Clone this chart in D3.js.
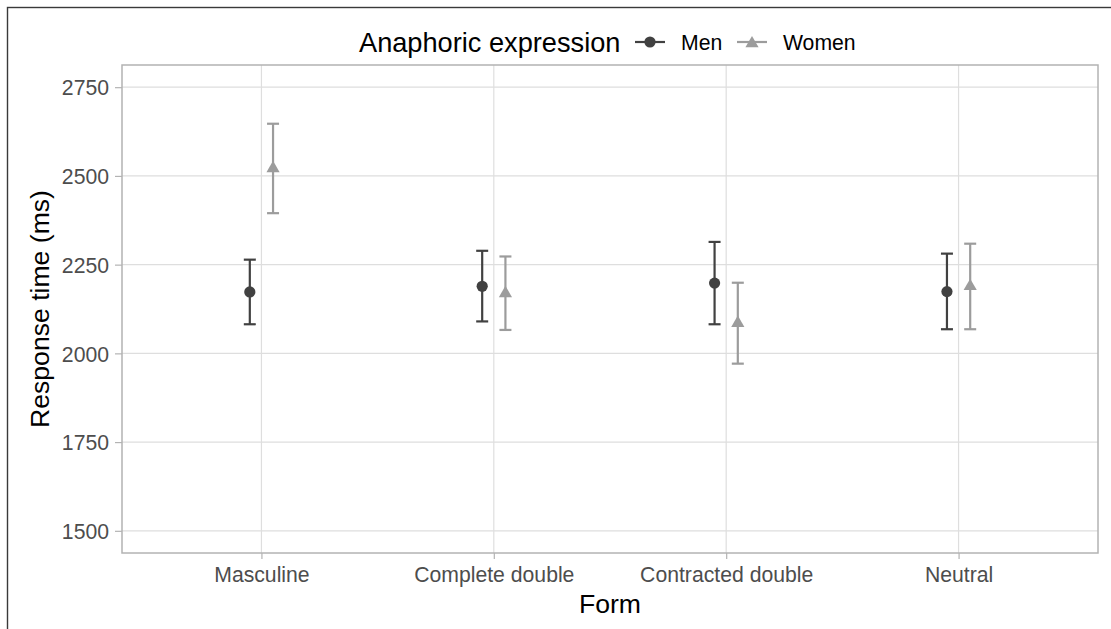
<!DOCTYPE html>
<html>
<head>
<meta charset="utf-8">
<script src="https://cdn.jsdelivr.net/npm/d3@7"></script>
<style>
  html, body { margin: 0; padding: 0; background: #ffffff; }
  svg { display: block; font-family: "Liberation Sans", Arial, sans-serif; }
</style>
</head>
<body>
<svg id="chart"></svg>
<script>
const WIDTH = 1111;
const HEIGHT = 629;

// Data
const forms = ["Masculine", "Complete double", "Contracted double", "Neutral"];
const groups = ["Men", "Women"];
const menMean = [2173, 2189, 2198, 2174];
const menLow = [2082, 2090, 2082, 2068];
const menHigh = [2264, 2289, 2314, 2281];
const womenMean = [2521, 2169, 2085, 2189];
const womenLow = [2395, 2066, 1971, 2068];
const womenHigh = [2647, 2273, 2199, 2309];
const yTicks = [1500, 1750, 2000, 2250, 2500, 2750];

const groupColors = { Men: "#414141", Women: "#9c9c9c" };
const groupShapes = { Men: "circle", Women: "triangle" };

const panel = { left: 122, top: 65, right: 1098, bottom: 553 };

const svg = d3.select("#chart").attr("width", WIDTH).attr("height", HEIGHT);

// outer frame, only left and top edges visible
svg.append("rect")
    .attr("x", 7.5).attr("y", 7.5)
    .attr("width", 3000).attr("height", 3000)
    .attr("fill", "none")
    .attr("stroke", "#3a3a3a")
    .attr("stroke-width", 1.4);

const x = d3.scalePoint()
    .domain(forms)
    .range([panel.left, panel.right])
    .padding(0.6);

const yMin = 1500, yMax = 2750;
const pad = (yMax - yMin) * 0.05;
const y = d3.scaleLinear()
    .domain([yMin - pad, yMax + pad])
    .range([panel.bottom, panel.top]);

const dodge = d3.scalePoint()
    .domain(groups)
    .range([-x.step() * 0.05, x.step() * 0.05]);

// rows for drawing
let rows = [];
forms.forEach((f, i) => {
    rows.push({ form: f, group: "Men", mean: menMean[i], low: menLow[i], high: menHigh[i] });
    rows.push({ form: f, group: "Women", mean: womenMean[i], low: womenLow[i], high: womenHigh[i] });
});

// grid
const grid = svg.append("g");
grid.selectAll("line.h")
    .data(yTicks)
    .enter()
    .append("line")
    .attr("x1", panel.left).attr("x2", panel.right)
    .attr("y1", d => y(d)).attr("y2", d => y(d))
    .attr("stroke", "#dedede")
    .attr("stroke-width", 1.2);
grid.selectAll("line.v")
    .data(forms)
    .enter()
    .append("line")
    .attr("x1", d => x(d)).attr("x2", d => x(d))
    .attr("y1", panel.top).attr("y2", panel.bottom)
    .attr("stroke", "#dedede")
    .attr("stroke-width", 1.2);

// axes
const yAxis = svg.append("g")
    .attr("transform", "translate(" + panel.left + ",0)")
    .call(d3.axisLeft(y).tickValues(yTicks).tickSize(7).tickPadding(6).tickFormat(d3.format("d")));
const xAxis = svg.append("g")
    .attr("transform", "translate(0," + panel.bottom + ")")
    .call(d3.axisBottom(x).tickSize(6).tickPadding(7));
[yAxis, xAxis].forEach(ax => {
    ax.select(".domain").remove();
    ax.selectAll(".tick line").attr("stroke", "#b3b3b3").attr("stroke-width", 1.2);
    ax.selectAll(".tick text")
        .attr("fill", "#4d4d4d")
        .style("font-size", "21.2px")
        .style("font-family", "'Liberation Sans', Arial, sans-serif");
});
yAxis.selectAll(".tick text").attr("dy", "0.36em");
xAxis.selectAll(".tick text").attr("dy", "0.74em");

// panel border
svg.append("rect")
    .attr("x", panel.left).attr("y", panel.top)
    .attr("width", panel.right - panel.left)
    .attr("height", panel.bottom - panel.top)
    .attr("fill", "none")
    .attr("stroke", "#b3b3b3")
    .attr("stroke-width", 1.5);

// axis titles
svg.append("text")
    .attr("x", (panel.left + panel.right) / 2)
    .attr("y", 613)
    .attr("text-anchor", "middle")
    .style("font-size", "26.6px")
    .attr("fill", "#000")
    .text("Form");
svg.append("text")
    .attr("transform", "translate(49," + (panel.top + panel.bottom) / 2 + ") rotate(-90)")
    .attr("text-anchor", "middle")
    .style("font-size", "26.6px")
    .attr("fill", "#000")
    .text("Response time (ms)");

function drawShape(sel, group, cx, cy) {
    if (groupShapes[group] == "circle") {
        sel.append("circle")
            .attr("cx", cx).attr("cy", cy).attr("r", 5.6)
            .attr("fill", groupColors[group]);
    } else {
        let r = 7.6;
        let xc = r * Math.sqrt(3) / 2;
        sel.append("polygon")
            .attr("points", [[cx, cy - r], [cx + xc, cy + r / 2], [cx - xc, cy + r / 2]].map(p => p.join(",")).join(" "))
            .attr("fill", groupColors[group]);
    }
}

// error bars and points
const marks = svg.append("g");
const capHalf = 6;
rows.forEach(d => {
    let cx = x(d.form) + dodge(d.group);
    let col = groupColors[d.group];
    let g = marks.append("g");
    g.append("line")
        .attr("x1", cx).attr("x2", cx)
        .attr("y1", y(d.low)).attr("y2", y(d.high))
        .attr("stroke", col).attr("stroke-width", 2.2);
    [d.low, d.high].forEach(v => {
        g.append("line")
            .attr("x1", cx - capHalf).attr("x2", cx + capHalf)
            .attr("y1", y(v)).attr("y2", y(v))
            .attr("stroke", col).attr("stroke-width", 2.2);
    });
    drawShape(g, d.group, cx, y(d.mean));
});

// legend
const legend = svg.append("g");
const legendY = 42;
legend.append("text")
    .attr("x", 359)
    .attr("y", legendY + 9.7)
    .style("font-size", "27.2px")
    .attr("fill", "#000")
    .text("Anaphoric expression");
const keyX = { Men: 650, Women: 752 };
groups.forEach(gr => {
    let k = legend.append("g");
    k.append("line")
        .attr("x1", keyX[gr] - 15).attr("x2", keyX[gr] + 15)
        .attr("y1", legendY).attr("y2", legendY)
        .attr("stroke", groupColors[gr]).attr("stroke-width", 2.2);
    drawShape(k, gr, keyX[gr], legendY + (groupShapes[gr] == "triangle" ? 1.5 : 0));
    k.append("text")
        .attr("x", keyX[gr] + 31)
        .attr("y", legendY + 7.6)
        .style("font-size", "21.2px")
        .attr("fill", "#000")
        .text(gr);
});
</script>
</body>
</html>
